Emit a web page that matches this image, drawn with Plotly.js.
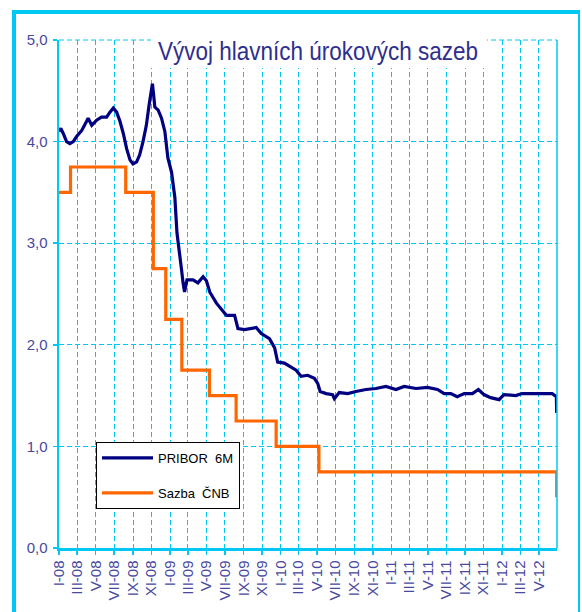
<!DOCTYPE html>
<html>
<head>
<meta charset="utf-8">
<script src="https://cdn.plot.ly/plotly-3.0.1.min.js"></script>
<style>
html,body{margin:0;padding:0;background:#fff;}
#chart{width:582px;height:612px;}
</style>
</head>
<body>
<div id="chart"></div>
<script>
// PRIBOR 6M
const priborDates = [
 "2008-01-01","2008-01-07","2008-01-15","2008-01-26","2008-02-06","2008-02-17","2008-02-28","2008-03-16","2008-04-01","2008-04-06","2008-04-18",
 "2008-05-04","2008-05-20","2008-06-06","2008-06-17","2008-06-28","2008-07-09","2008-07-20","2008-07-31","2008-08-11","2008-08-22",
 "2008-09-01","2008-09-13","2008-09-23","2008-10-04","2008-10-15","2008-10-24","2008-11-01","2008-11-04","2008-11-08","2008-11-12",
 "2008-11-23","2008-12-04","2008-12-15","2008-12-25","2009-01-06","2009-01-17","2009-01-24","2009-01-31","2009-02-08","2009-02-13",
 "2009-02-18","2009-02-26","2009-03-18","2009-04-03","2009-04-20","2009-05-01","2009-05-12","2009-06-03","2009-06-24","2009-07-06",
 "2009-08-02","2009-08-13","2009-09-04","2009-10-01","2009-10-12","2009-10-29","2009-11-25","2009-12-12","2009-12-22","2010-01-13",
 "2010-02-04","2010-02-21","2010-03-09","2010-03-31","2010-04-22","2010-05-03","2010-05-11","2010-05-31","2010-06-21","2010-06-27",
 "2010-07-13","2010-08-10","2010-09-06","2010-10-09","2010-11-11","2010-12-14","2011-01-16","2011-02-12","2011-03-23","2011-04-30",
 "2011-06-02","2011-06-24","2011-07-16","2011-08-06","2011-08-29","2011-09-25","2011-10-15","2011-11-02","2011-11-24","2011-12-22",
 "2012-01-07","2012-02-15","2012-03-07","2012-05-01","2012-06-14","2012-06-23","2012-06-28","2012-06-29"
];
const priborValues = [
 4.10,4.13,4.08,4.00,3.98,4.00,4.05,4.11,4.20,4.23,4.16,
 4.21,4.24,4.24,4.29,4.33,4.29,4.20,4.08,3.93,3.82,
 3.78,3.80,3.87,4.00,4.16,4.36,4.56,4.57,4.46,4.34,
 4.31,4.23,4.10,3.84,3.70,3.45,3.10,2.90,2.74,2.61,
 2.52,2.64,2.64,2.61,2.67,2.63,2.52,2.41,2.33,2.29,
 2.29,2.16,2.15,2.16,2.17,2.11,2.06,1.97,1.83,1.82,
 1.78,1.75,1.69,1.70,1.67,1.62,1.54,1.52,1.51,1.47,
 1.53,1.52,1.54,1.56,1.57,1.59,1.56,1.59,1.57,1.58,
 1.56,1.52,1.52,1.49,1.52,1.52,1.56,1.51,1.48,1.46,
 1.51,1.50,1.52,1.52,1.52,1.50,1.49,1.33
];
// CNB 2W repo rate (step series)
const cnbDates = ["2008-01-01","2008-02-08","2008-08-08","2008-11-07","2008-12-18","2009-02-09","2009-05-11","2009-08-07","2009-12-17","2010-05-07","2012-06-28","2012-06-29"];
const cnbValues = [3.50,3.75,3.50,2.75,2.25,1.75,1.50,1.25,1.00,0.75,0.75,0.50];

const tickDates = [
 "2008-01-01","2008-03-01","2008-05-01","2008-07-01","2008-09-01","2008-11-01",
 "2009-01-01","2009-03-01","2009-05-01","2009-07-01","2009-09-01","2009-11-01",
 "2010-01-01","2010-03-01","2010-05-01","2010-07-01","2010-09-01","2010-11-01",
 "2011-01-01","2011-03-01","2011-05-01","2011-07-01","2011-09-01","2011-11-01",
 "2012-01-01","2012-03-01","2012-05-01"
];
const tickLabels = [
 "I-08","III-08","V-08","VII-08","IX-08","XI-08",
 "I-09","III-09","V-09","VII-09","IX-09","XI-09",
 "I-10","III-10","V-10","VII-10","IX-10","XI-10",
 "I-11","III-11","V-11","VII-11","IX-11","XI-11",
 "I-12","III-12","V-12"
];
const seriesNames = ["PRIBOR  6M","Sazba  ČNB"];
const chartTitle = "Vývoj hlavních úrokových sazeb";

const CYAN = "#00c8f5";
const TICKC = "#4848a0";
const FONT = "Liberation Sans, Arial, sans-serif";

// pixel helpers for paper coords (plot area 59..557 x 40..548)
const L=59, R=557, T=40, B=548;
const px = v => (v - L)/(R - L);
const py = v => (B - v)/(B - T);

const traces = [
 {x: priborDates, y: priborValues, type:"scatter", mode:"lines", name: seriesNames[0], legendgroup:"a",
  line:{color:"#000080", width:3.2}},
 {x: cnbDates, y: cnbValues, type:"scatter", mode:"lines", name: seriesNames[1], legendgroup:"b",
  line:{color:"#ff6600", width:3.2, shape:"hv"}}
];

const layout = {
 width:582, height:612,
 margin:{l:L, r:582-R, t:T, b:612-B, pad:0},
 paper_bgcolor:"#ffffff", plot_bgcolor:"#ffffff",
 separators:", ",
 font:{family:FONT, size:15, color:TICKC},
 showlegend:true,
 legend:{x:px(96), y:py(442), xanchor:"left", yanchor:"top",
  bgcolor:"#ffffff", bordercolor:"#000000", borderwidth:1,
  font:{family:FONT, size:13, color:"#000000"},
  traceorder:"grouped", tracegroupgap:15, itemwidth:51},
 xaxis:{type:"date", range:["2008-01-01","2012-06-30"],
  tickmode:"array", tickvals:tickDates, ticktext:tickLabels, tickangle:-90,
  ticks:"outside", ticklen:4, tickwidth:1.5, tickcolor:CYAN,
  tickfont:{family:FONT, size:15, color:TICKC},
  showgrid:true, gridcolor:CYAN, gridwidth:1, griddash:"5px,3px",
  showline:true, linecolor:CYAN, linewidth:2.5, zeroline:false, fixedrange:true},
 yaxis:{range:[0,5], dtick:1, tick0:0, tickformat:".1f",
  ticks:"outside", ticklen:4, tickwidth:1.5, tickcolor:CYAN, ticklabelstandoff:2,
  tickfont:{family:FONT, size:15, color:TICKC},
  showgrid:true, gridcolor:CYAN, gridwidth:1, griddash:"5px,3px",
  showline:true, linecolor:CYAN, linewidth:2.5, zeroline:false, fixedrange:true},
 shapes:[
  // outer frame
  {type:"rect", xref:"paper", yref:"paper", x0:px(12), x1:px(16), y0:py(620), y1:py(10), fillcolor:CYAN, line:{width:0}, layer:"below"},
  {type:"rect", xref:"paper", yref:"paper", x0:px(12), x1:px(580), y0:py(14), y1:py(10), fillcolor:CYAN, line:{width:0}, layer:"below"},
  {type:"rect", xref:"paper", yref:"paper", x0:px(578), x1:px(580), y0:py(620), y1:py(10), fillcolor:CYAN, line:{width:0}, layer:"below"},
  // right border of plot area
  {type:"line", xref:"paper", yref:"paper", x0:1, x1:1, y0:0, y1:1, line:{color:CYAN, width:1.5}},
  // top dashed line
  {type:"line", xref:"paper", yref:"paper", x0:0, x1:1, y0:1, y1:1, line:{color:CYAN, width:1, dash:"5px,3px"}},
  // white title box
  {type:"rect", xref:"paper", yref:"paper", x0:px(151), x1:px(487), y0:py(68), y1:py(37), fillcolor:"#ffffff", line:{width:0}, layer:"above"}
 ],
 annotations:[
  {text:chartTitle, xref:"paper", yref:"paper", x:px(318), y:py(51), xanchor:"center", yanchor:"middle", showarrow:false,
   font:{family:FONT, size:26, color:"#2e2e8e"}}
 ]
};

Plotly.newPlot("chart", traces, layout, {displayModeBar:false, staticPlot:true}).then(function(){
  // condensed look for the title (the original uses a narrow face)
  document.querySelectorAll(".annotation-text").forEach(function(t){
    t.style.transformBox = "fill-box";
    t.style.transformOrigin = "center";
    t.style.transform = "scaleX(0.865)";
  });
});
</script>
</body>
</html>
